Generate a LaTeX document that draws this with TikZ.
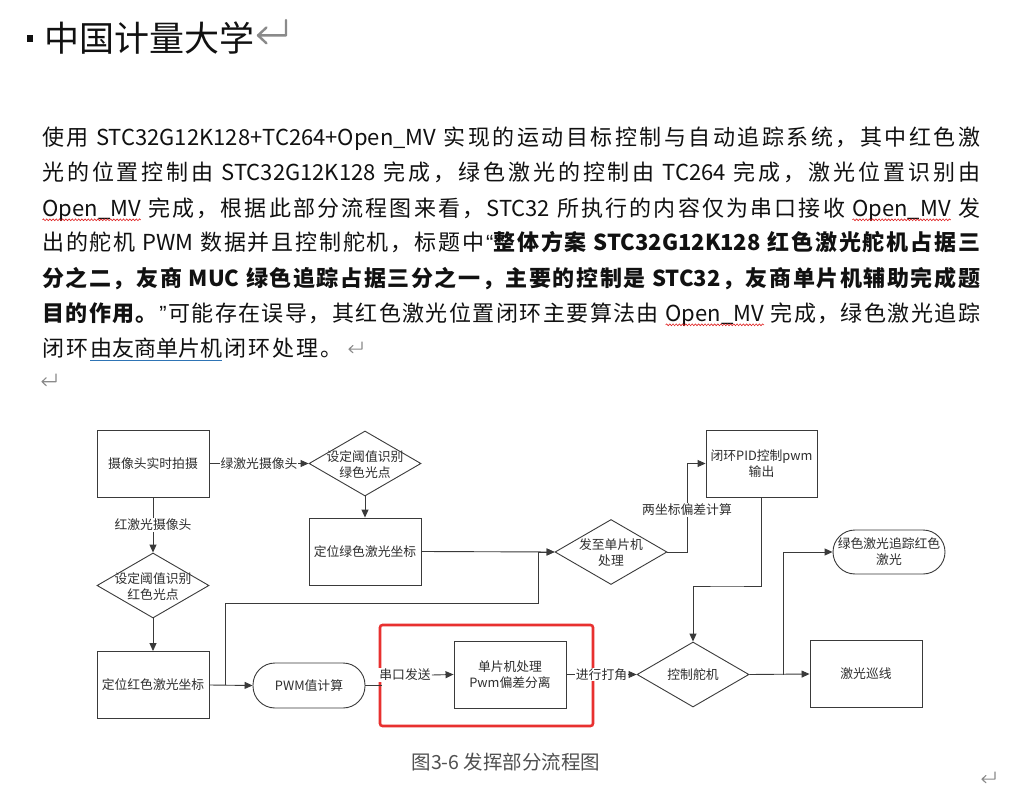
\documentclass[tikz,border=0pt]{standalone}
\usepackage{fontspec}
\setmainfont{Noto Sans CJK SC}
\newfontfamily\latq{Liberation Sans}
\usetikzlibrary{shapes.geometric,arrows.meta,decorations.pathmorphing}
\definecolor{ink}{HTML}{111111}
\definecolor{fc}{HTML}{2E2E2E}
\definecolor{fl}{HTML}{3A3A3A}
\definecolor{retc}{HTML}{8A8A8A}
\definecolor{redbox}{HTML}{E8302F}
\definecolor{cap}{HTML}{505050}
\definecolor{ulblue}{HTML}{2E74B5}
\definecolor{wavyred}{HTML}{E02020}

\ExplSyntaxOn
\bool_new:N \l_jl_first_bool
\NewDocumentCommand \jline { m m }
  {
    \hbox to #1
      {
        \bool_set_true:N \l_jl_first_bool
        \tl_map_inline:nn {#2}
          {
            \bool_if:NTF \l_jl_first_bool
              { \bool_set_false:N \l_jl_first_bool }
              { \skip_horizontal:n { 0pt plus 1fil } }
            ##1
          }
      }
  }
\ExplSyntaxOff

\newcommand\wv[1]{\tikz[baseline=(wvt.base)]{\node[inner sep=0pt,outer sep=0pt,anchor=base] (wvt) {#1};\draw[wavyred,line width=0.6pt,decorate,decoration={snake,amplitude=0.9pt,segment length=3.2pt}] ([yshift=-3.8pt]wvt.base west) -- ([yshift=-3.8pt]wvt.base east);}}
\newcommand\bu[1]{\tikz[baseline=(but.base)]{\node[inner sep=0pt,outer sep=0pt,anchor=base] (but) {#1};\draw[ulblue,line width=0.9pt] ([yshift=-4.5pt]but.base west) -- ([yshift=-4.5pt]but.base east);}}
\newcommand\ffont{\fontsize{12.8}{16}\selectfont}

\tikzset{
  para/.style={anchor=base west, inner sep=0pt, text=ink, font=\fontsize{22}{26}\selectfont},
  fbox/.style={draw=fl, line width=0.9pt, minimum width=112pt, minimum height=67pt, inner sep=0pt, text=fc, font=\ffont, align=center},
  fdia/.style={diamond, draw=fl, line width=0.9pt, minimum width=112pt, minimum height=65pt, inner sep=0pt},
  fterm/.style={draw=fl, line width=0.9pt, rounded corners=22pt, minimum width=112pt, minimum height=45pt, inner sep=0pt, text=fc, font=\ffont, align=center},
  ftxt/.style={inner sep=0pt, text=fc, font=\ffont, align=center},
  flab/.style={fill=white, inner sep=1pt, text=fc, font=\ffont},
  conn/.style={draw=fl, line width=0.9pt},
  arr/.style={conn, -{Triangle[length=8pt,width=7pt]}},
  retmark/.pic={\draw[retc, line cap=round, line join=round] (1,0) -- (1,0.55) -- (0,0.55) (0.3,0.27) -- (0,0.55) -- (0.3,0.83);},
}

\begin{document}
\begin{tikzpicture}[x=1pt,y=-1pt]
\useasboundingbox (0,0) rectangle (1013,789);
\fill[white] (0,0) rectangle (1013,789);

% title
\fill[ink] (27,35) rectangle (33,42);
\node[anchor=base west, inner sep=0pt, text=ink, font=\fontsize{35}{40}\selectfont] (title) at (44,52) {中国计量大学};
\pic[scale=28, line width=2.4pt] at (258,20) {retmark};

% paragraph
\node[para] (l1) at (42,146) {\jline{938pt}{使用{ STC32G12K128+TC264+Open\_MV }实现的运动目标控制与自动追踪系统，其中红色激}};
\node[para] (l2) at (42,181) {\jline{938pt}{光的位置控制由{ STC32G12K128 }完成，绿色激光的控制由{ TC264 }完成，激光位置识别由}};
\node[para] (l3) at (42,216) {\jline{938pt}{{\wv{Open\_MV} }完成，根据此部分流程图来看，{STC32 }所执行的内容仅为串口接收{ \wv{Open\_MV} }发}};
\node[para] (l4) at (42,251) {\jline{938pt}{出的舵机{ PWM }数据并且控制舵机，标题中{{\latq “}\bfseries 整}体方案{ STC32G12K128 }红色激光舵机占据三}};
\node[para] (l5) at (42,286) {\jline{938pt}{{\bfseries 分}之二，友商{ MUC }绿色追踪占据三分之一，主要的控制是{ STC32}，友商单片机辅助完成题}};
\node[para] (l6) at (42,321) {\jline{938pt}{{\bfseries 目}的作用。{\mdseries{\latq ”}}可能存在误导，其红色激光位置闭环主要算法由{ \wv{Open\_MV} }完成，绿色激光追踪}};
\node[para] (l7) at (42,356) {\jline{300pt}{闭环{\bu{由友商单片机}}闭环处理。}};
\pic[scale=13, line width=1.1pt] at (349,342) {retmark};
\pic[scale=14, line width=1.1pt] at (42,374) {retmark};
\pic[scale=13, line width=1.1pt] at (982,772) {retmark};

% flowchart nodes
\node[fbox] (cam) at (153,463.5) {摄像头实时拍摄};
\node[fdia] (d1) at (365,463.5) {};
\node[ftxt] (d1t) at (365,465) {设定阈值识别\\绿色光点};
\node[fbox] (gloc) at (365,551.5) {定位绿色激光坐标};
\node[fdia] (d2) at (153,585.5) {};
\node[ftxt] (d2t) at (153,587) {设定阈值识别\\红色光点};
\node[fbox] (rloc) at (153,685) {定位红色激光坐标};
\node[fterm] (pwm) at (309,685.5) {PWM值计算};
\node[fbox] (mcu) at (510,674.5) {单片机处理\\Pwm偏差分离};
\node[fdia] (d3) at (611,552) {};
\node[ftxt] (d3t) at (611,553) {发至单片机\\处理};
\node[fbox, minimum width=111pt] (pid) at (761.5,463.5) {闭环PID控制pwm\\输出};
\node[fdia] (d4) at (693,674.5) {};
\node[ftxt] (d4t) at (693,675) {控制舵机};
\node[fbox] (scan) at (866,674) {激光巡线};
\node[fterm, minimum height=44pt] (gterm) at (889,552) {绿色激光追踪红色\\激光};
\node[draw=redbox, line width=2.6pt, rounded corners=2.5pt, minimum width=213pt, minimum height=101pt, inner sep=0pt] (hl) at (486.5,675.5) {};

% connectors
\draw[arr] (cam.east) -- (d1.west) node[flab, midway] (lg) {绿激光摄像头};
\draw[arr] (cam.south) -- (d2.north) node[flab, midway] (lr) {红激光摄像头};
\draw[arr] (d1.south) -- (gloc.north);
\draw[arr] (d2.south) -- (rloc.north);
\draw[arr] (rloc.east) -- (pwm.west);
\coordinate (j1) at (225,685);
\coordinate (j2) at (538,603);
\draw[arr] (j1) |- (j2) |- (d3.west);
\draw[arr] (gloc.east) -- (d3.west);
\coordinate (j3) at (687,463.5);
\draw[arr] (d3.east) -| (j3) -- (pid.west);
\node[flab] (l2c) at (687,510) {两坐标偏差计算};
\coordinate (j4) at (727,586);
\draw[arr] (pid.south) |- (j4) -| (d4.north);
\coordinate (j5) at (382,685.5);
\draw[conn] (pwm.east) -- (j5);
\node[flab] (sk) at (405,675) {串口发送};
\draw[arr] (sk.east) -- (mcu.west);
\draw[arr] (mcu.east) -- (d4.west) node[flab, midway] (dj) {进行打角};
\draw[arr] (d4.east) -- (scan.west);
\coordinate (j6) at (783,674.5);
\draw[arr] (j6) |- (gterm.west);

% caption
\node[inner sep=0pt, text=cap, font=\fontsize{19.5}{22}\selectfont] (caption) at (506,762) {图3-6 发挥部分流程图};
\end{tikzpicture}
\end{document}
